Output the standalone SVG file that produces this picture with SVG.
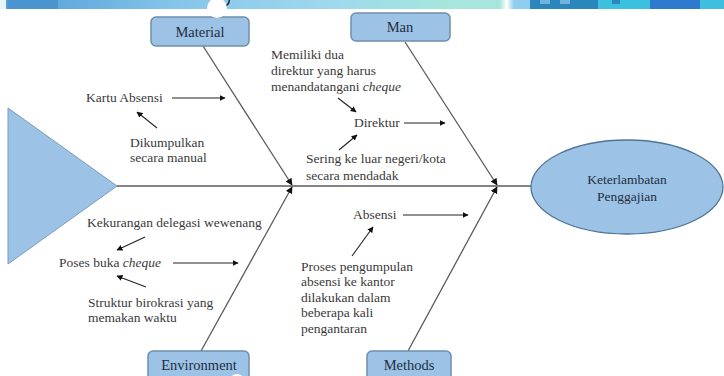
<svg xmlns="http://www.w3.org/2000/svg" width="724" height="376" viewBox="0 0 724 376">
<defs>
<marker id="ah" viewBox="0 0 10 10" refX="9" refY="5" markerWidth="6" markerHeight="6" markerUnits="userSpaceOnUse" orient="auto"><path d="M0,0 L10,5 L0,10 z" fill="#111"/></marker>
<marker id="jn" viewBox="0 0 10 10" refX="9" refY="5" markerWidth="7" markerHeight="7" markerUnits="userSpaceOnUse" orient="auto"><path d="M0,0 L10,5 L0,10 z" fill="#111"/></marker>
<linearGradient id="hdr" x1="0" x2="1" y1="0" y2="0">
<stop offset="0" stop-color="#4f9cd6"/><stop offset="0.25" stop-color="#86c6ea"/><stop offset="0.45" stop-color="#9fd8ee"/><stop offset="0.62" stop-color="#a6e6dc"/><stop offset="0.69" stop-color="#a6e6dc"/><stop offset="0.7" stop-color="#ffffff"/><stop offset="0.71" stop-color="#8fcdee"/><stop offset="1" stop-color="#8fcdee"/>
</linearGradient>
<style>
.t{font-size:13.5px;fill:#3a3a3a}
.b{font-size:14.5px;fill:#1f2e42;text-anchor:middle}
.box{fill:#9cc2e6;stroke:#6f8eab;stroke-width:1.5}
.bone{stroke:#5a5a5a;stroke-width:1.3;fill:none}
.ar{stroke:#222;stroke-width:1.1;fill:none;marker-end:url(#ah)}
</style>
</defs>
<rect width="724" height="376" fill="#ffffff"/>
<g id="header">
<rect x="0" y="0" width="724" height="9" fill="url(#hdr)"/>
<rect x="0" y="0" width="6" height="9" fill="#e8f3fa"/>
<rect x="8" y="0" width="50" height="9" fill="#4a95d0"/>
<rect x="530" y="0" width="68" height="9" fill="#2b86bd"/>
<rect x="540" y="0" width="10" height="4" fill="#6fb3de"/>
<rect x="560" y="0" width="10" height="4" fill="#6fb3de"/>
<rect x="598" y="0" width="52" height="9" fill="#3cc0df"/>
<rect x="612" y="0" width="8" height="4" fill="#2b86bd"/>
<rect x="650" y="0" width="50" height="9" fill="#2f79cf"/>
<rect x="700" y="0" width="24" height="9" fill="#3fbfe0"/>
<path d="M226,6 Q230,3 229,0" stroke="#222" stroke-width="1.5" fill="none"/>
</g>
<g id="head">
<polygon points="8,108 117,186 8,264" fill="#9cc2e6" stroke="#7b9cbf" stroke-width="1"/>
</g>
<g id="connectors">
<line class="bone" x1="117" y1="186" x2="531" y2="186"/>
<line class="bone" x1="203" y1="46" x2="292" y2="185" marker-end="url(#jn)"/>
<line class="bone" x1="201" y1="351" x2="292" y2="187" marker-end="url(#jn)"/>
<line class="bone" x1="405" y1="42" x2="497" y2="185" marker-end="url(#jn)"/>
<line class="bone" x1="408" y1="351" x2="497" y2="187" marker-end="url(#jn)"/>
<line class="ar" x1="172" y1="98" x2="225" y2="98"/>
<line class="ar" x1="157" y1="128" x2="137" y2="112"/>
<line class="ar" x1="338" y1="98" x2="356" y2="112"/>
<line class="ar" x1="404" y1="123" x2="445" y2="123"/>
<line class="ar" x1="339" y1="150" x2="357" y2="135"/>
<line class="ar" x1="145" y1="237" x2="117" y2="250"/>
<line class="ar" x1="173" y1="263" x2="238" y2="263"/>
<line class="ar" x1="146" y1="287" x2="117" y2="276"/>
<line class="ar" x1="403" y1="215" x2="468" y2="215"/>
<line class="ar" x1="352" y1="256" x2="373" y2="227"/>
</g>
<g font-family="Liberation Serif, Times New Roman, serif">
<g id="material">
<rect class="box" x="151" y="17" width="98" height="29" rx="5"/>
<text class="b" x="200" y="37">Material</text>
</g>
<g id="deco-circle">
<circle cx="217" cy="8" r="10" fill="#ffffff"/>
</g>
<g id="man">
<rect class="box" x="351" y="13" width="99" height="28" rx="5"/>
<text class="b" x="400" y="32">Man</text>
</g>
<g id="environment">
<rect class="box" x="148" y="351" width="101" height="34" rx="5"/>
<text class="b" x="199" y="370">Environment</text>
</g>
<g id="methods">
<rect class="box" x="367" y="351" width="84" height="34" rx="5"/>
<text class="b" x="409" y="370">Methods</text>
</g>
<g id="effect">
<ellipse cx="627" cy="187" rx="96" ry="47" fill="#9cc2e6" stroke="#4f7399" stroke-width="1.3"/>
<text class="b" x="627" y="184" style="font-size:13.5px">Keterlambatan</text>
<text class="b" x="627" y="201" style="font-size:13.5px">Penggajian</text>
</g>
<g id="material-causes">
<text class="t" x="86" y="102">Kartu Absensi</text>
<text class="t" x="130" y="147">Dikumpulkan</text>
<text class="t" x="130" y="162">secara manual</text>
</g>
<g id="man-causes">
<text class="t" x="271" y="59">Memiliki dua</text>
<text class="t" x="271" y="75">direktur yang harus</text>
<text class="t" x="271" y="91">menandatangani <tspan font-style="italic">cheque</tspan></text>
<text class="t" x="354" y="127">Direktur</text>
<text class="t" x="306" y="163">Sering ke luar negeri/kota</text>
<text class="t" x="306" y="180">secara mendadak</text>
</g>
<g id="environment-causes">
<text class="t" x="87" y="227">Kekurangan delegasi wewenang</text>
<text class="t" x="59" y="267">Poses buka <tspan font-style="italic">cheque</tspan></text>
<text class="t" x="88" y="307">Struktur birokrasi yang</text>
<text class="t" x="88" y="322">memakan waktu</text>
</g>
<g id="methods-causes">
<text class="t" x="353" y="219">Absensi</text>
<text class="t" x="301" y="271">Proses pengumpulan</text>
<text class="t" x="301" y="286">absensi ke kantor</text>
<text class="t" x="301" y="302">dilakukan dalam</text>
<text class="t" x="301" y="317">beberapa kali</text>
<text class="t" x="301" y="333">pengantaran</text>
</g>
</g>
<circle cx="237" cy="382" r="8" fill="#ffffff"/>
</svg>
